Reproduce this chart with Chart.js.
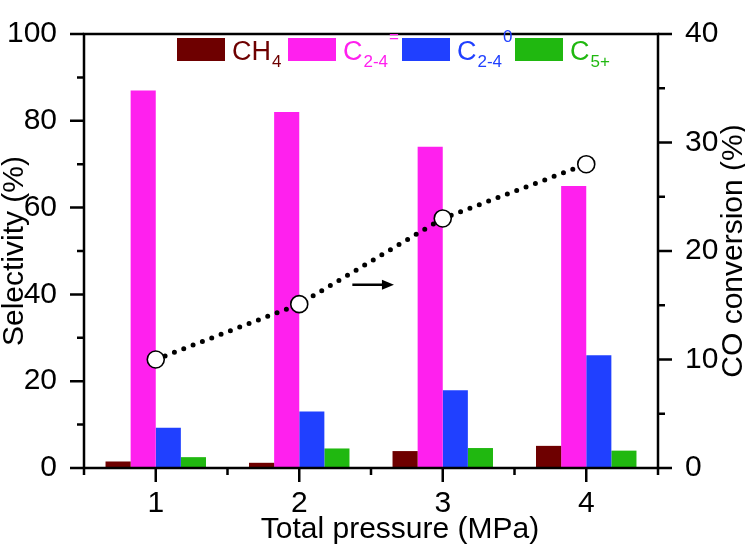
<!DOCTYPE html>
<html>
<head>
<meta charset="utf-8">
<script src="https://cdn.jsdelivr.net/npm/chart.js@4/dist/chart.umd.min.js"></script>
<style>
  html, body { margin: 0; padding: 0; background: #fff; }
  #wrap { width: 745px; height: 552px; }
</style>
</head>
<body>
<div id="wrap"><canvas id="chart" width="745" height="552"></canvas></div>
<script>
// data
const pressures = ["1", "2", "3", "4"];           // Total pressure (MPa)
const ch4 = [1.5, 1.2, 3.9, 5.1];                 // selectivity %
const c24ene = [87, 82, 74, 65];
const c24ane = [9.3, 13, 17.9, 26];
const c5plus = [2.5, 4.5, 4.6, 4.0];
const coConversion = [10, 15.1, 23, 28];          // right axis, %

const leftTicks = [0, 20, 40, 60, 80, 100];
const rightTicks = [0, 10, 20, 30, 40];

const FONT = "'Liberation Sans', Arial, sans-serif";
const colors = { ch4: "#6e0000", ene: "#ff20ee", ane: "#2040ff", c5: "#20b810" };

const legendItems = [
  { color: colors.ch4, main: "CH", sub: "4", sup: "" },
  { color: colors.ene, main: "C", sub: "2-4", sup: "=" },
  { color: colors.ane, main: "C", sub: "2-4", sup: "0" },
  { color: colors.c5, main: "C", sub: "5+", sup: "" }
];
const legendBoxX = [177, 288, 402, 515];

const decor = {
  id: "decor",
  afterDraw(chart) {
    const ctx = chart.ctx;
    const a = chart.chartArea;
    const x = chart.scales.x, y = chart.scales.y, y1 = chart.scales.y1;
    ctx.save();
    ctx.strokeStyle = "#000";
    ctx.lineWidth = 2.5;
    ctx.lineCap = "butt";
    // frame
    ctx.beginPath();
    ctx.moveTo(a.left, a.bottom); ctx.lineTo(a.left, a.top);
    ctx.lineTo(a.right, a.top); ctx.lineTo(a.right, a.bottom);
    ctx.lineTo(a.left, a.bottom);
    ctx.stroke();
    const major = 14, minor = 7;
    ctx.beginPath();
    // left ticks
    for (let v = 0; v <= 100; v += 10) {
      const py = y.getPixelForValue(v);
      ctx.moveTo(a.left, py); ctx.lineTo(a.left - (v % 20 === 0 ? major : minor), py);
    }
    // right ticks
    for (let v = 0; v <= 40; v += 5) {
      const py = y1.getPixelForValue(v);
      ctx.moveTo(a.right, py); ctx.lineTo(a.right + (v % 10 === 0 ? major : minor), py);
    }
    // bottom ticks
    for (let i = -0.5; i <= pressures.length - 0.5; i += 0.5) {
      const px = x.getPixelForValue(i);
      const len = Number.isInteger(i) ? major : minor;
      ctx.moveTo(px, a.bottom); ctx.lineTo(px, a.bottom + len);
    }
    ctx.stroke();

    // axis titles
    ctx.fillStyle = "#000";
    ctx.font = "30px " + FONT;
    ctx.textAlign = "center";
    ctx.textBaseline = "middle";
    const midY = (a.top + a.bottom) / 2;
    ctx.save(); ctx.translate(15, midY); ctx.rotate(-Math.PI / 2);
    ctx.fillText("Selectivity (%)", 0, 0); ctx.restore();
    ctx.save(); ctx.translate(734, midY); ctx.rotate(-Math.PI / 2);
    ctx.fillText("CO conversion (%)", 0, 0); ctx.restore();
    ctx.fillText("Total pressure (MPa)", 400, 530);

    // arrow pointing to the right axis
    const ay = y1.getPixelForValue(16.9);
    const ax0 = x.getPixelForValue(1.37), ax1 = x.getPixelForValue(1.66);
    ctx.beginPath(); ctx.moveTo(ax0, ay); ctx.lineTo(ax1 - 8, ay); ctx.stroke();
    ctx.beginPath(); ctx.moveTo(ax1, ay); ctx.lineTo(ax1 - 12, ay - 5); ctx.lineTo(ax1 - 12, ay + 5); ctx.closePath(); ctx.fill();

    // legend
    ctx.textAlign = "left";
    ctx.textBaseline = "alphabetic";
    legendItems.forEach((it, i) => {
      const bx = legendBoxX[i];
      ctx.fillStyle = it.color;
      ctx.fillRect(bx, 38, 48, 23);
      let tx = bx + 55;
      ctx.font = "27px " + FONT;
      ctx.fillText(it.main, tx, 60);
      tx += ctx.measureText(it.main).width + 1;
      ctx.font = "17px " + FONT;
      ctx.fillText(it.sub, tx, 67);
      tx += ctx.measureText(it.sub).width + 1;
      if (it.sup) ctx.fillText(it.sup, tx, 42);
    });
    ctx.restore();
  }
};

new Chart(document.getElementById("chart"), {
  type: "bar",
  data: {
    labels: pressures,
    datasets: [
      { type: "line", label: "CO conversion", data: coConversion, yAxisID: "y1", order: 0,
        borderColor: "#000", borderWidth: 5, borderDash: [0, 10], borderCapStyle: "round",
        pointRadius: 8.5, pointBackgroundColor: "#fff", pointBorderColor: "#000", pointBorderWidth: 1.6,
        fill: false, tension: 0 },
      { label: "CH4", data: ch4, backgroundColor: colors.ch4, yAxisID: "y", order: 1 },
      { label: "C2-4=", data: c24ene, backgroundColor: colors.ene, yAxisID: "y", order: 1 },
      { label: "C2-40", data: c24ane, backgroundColor: colors.ane, yAxisID: "y", order: 1 },
      { label: "C5+", data: c5plus, backgroundColor: colors.c5, yAxisID: "y", order: 1 }
    ]
  },
  options: {
    responsive: false,
    animation: false,
    events: [],
    layout: { padding: { top: 15, left: 0, right: 0, bottom: 0 } },
    datasets: { bar: { categoryPercentage: 0.7, barPercentage: 1.0, borderWidth: 0 } },
    plugins: { legend: { display: false }, tooltip: { enabled: false } },
    scales: {
      x: {
        type: "category", offset: true,
        grid: { display: false }, border: { display: false },
        ticks: { color: "#000", font: { family: FONT, size: 30, lineHeight: 1 }, padding: 13, maxRotation: 0 },
        afterFit(s) { s.height = 84; }
      },
      y: {
        position: "left", min: 0, max: 100,
        afterBuildTicks(s) { s.ticks = leftTicks.map(v => ({ value: v })); },
        grid: { display: false }, border: { display: false },
        ticks: { color: "#000", font: { family: FONT, size: 30, lineHeight: 1 }, padding: 19 },
        afterFit(s) { s.width = 84; }
      },
      y1: {
        position: "right", min: 0, max: 40,
        afterBuildTicks(s) { s.ticks = rightTicks.map(v => ({ value: v })); },
        grid: { display: false }, border: { display: false },
        ticks: { color: "#000", font: { family: FONT, size: 30, lineHeight: 1 }, padding: 19 },
        afterFit(s) { s.width = 87; }
      }
    }
  },
  plugins: [decor]
});
</script>
</body>
</html>
